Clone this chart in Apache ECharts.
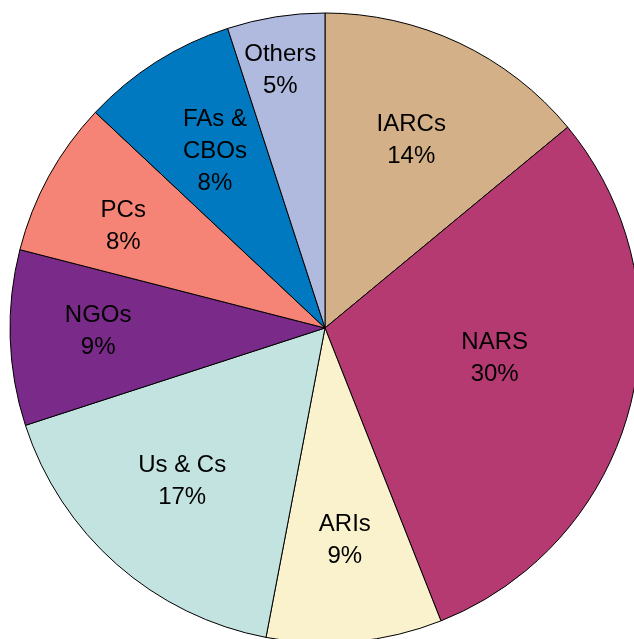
<!DOCTYPE html>
<html>
<head>
<meta charset="utf-8">
<title>Pie chart</title>
<script src="https://cdn.jsdelivr.net/npm/echarts@6/dist/echarts.min.js"></script>
<style>
    html, body { margin: 0; padding: 0; background: #fff; }
    #pie_basic { width: 634px; height: 639px; }
</style>
</head>
<body>
<div id="pie_basic"></div>
<script>
// Chart data
// ------------------------------

var categories = ['IARCs', 'NARS', 'ARIs', 'Us & Cs', 'NGOs', 'PCs', 'FAs & CBOs', 'Others'];
var labelNames = ['IARCs', 'NARS', 'ARIs', 'Us & Cs', 'NGOs', 'PCs', 'FAs &\nCBOs', 'Others'];
var shares = [14, 30, 9, 17, 9, 8, 8, 5];

// Slice colours, label distance from centre (fraction of radius) and label angle shift (deg)
var sliceColors = ['#D3B087', '#B53A72', '#FAF1CD', '#C3E3E0', '#7A2A89', '#F58376', '#0179C0', '#B0BADF'];
var labelRadius = [0.66, 0.546, 0.67, 0.66, 0.72, 0.72, 0.667, 0.835];
var labelShift = [-0.7, -5, 0, 2, 1.5, -1.6, 0.8, -0.8];


// Setup chart
// ------------------------------

var pie_element = document.getElementById('pie_basic');
var pie_basic = echarts.init(pie_element);

var cx = 325, cy = 328, radius = 315;

var total = shares.reduce(function(a, b) { return a + b; }, 0);

// Label centre for slice i, from its mid angle (clockwise from top)
var labelPos = function(i) {
    var before = 0;
    for (var k = 0; k < i; k++) before += shares[k];
    var mid = (before + shares[i] / 2) / total * 2 * Math.PI + labelShift[i] * Math.PI / 180;
    var r = radius * labelRadius[i];
    return { x: cx + r * Math.sin(mid), y: cy + 2 - r * Math.cos(mid) };
};

pie_basic.setOption({
    animation: false,
    color: sliceColors,
    textStyle: {
        fontFamily: '"Liberation Sans", Arial, sans-serif'
    },
    series: [{
        type: 'pie',
        center: [cx, cy],
        radius: [0, radius],
        startAngle: 90,
        clockwise: true,
        avoidLabelOverlap: false,
        itemStyle: {
            borderColor: '#000',
            borderWidth: 1
        },
        label: {
            show: true,
            position: 'inside',
            color: '#000',
            fontSize: 24,
            lineHeight: 32,
            align: 'center',
            verticalAlign: 'middle',
            formatter: function(p) {
                return labelNames[p.dataIndex] + '\n' + p.value + '%';
            }
        },
        labelLayout: function(params) {
            var pos = labelPos(params.dataIndex);
            return { x: pos.x, y: pos.y, align: 'center', verticalAlign: 'middle' };
        },
        emphasis: { disabled: true },
        data: categories.map(function(name, i) {
            return { name: name, value: shares[i] };
        })
    }]
});
</script>
</body>
</html>
